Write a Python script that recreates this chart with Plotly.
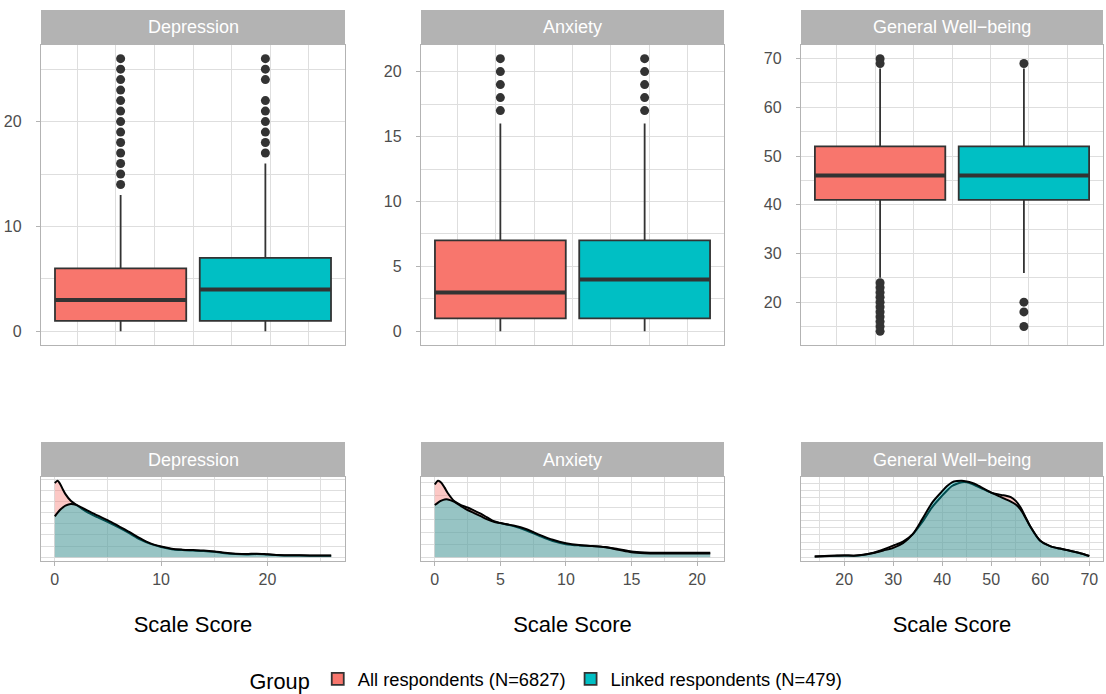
import plotly.graph_objects as go

W, H = 1106, 694

# ---------------- data ----------------
measures = ["Depression", "Anxiety", "General Well\u2212being"]
groups = ["All respondents (N=6827)", "Linked respondents (N=479)"]

# box statistics: [lower whisker, q1, median, q3, upper whisker]
dep_all_stats = [0, 1, 3, 6, 13]
dep_linked_stats = [0, 1, 4, 7, 16]
anx_all_stats = [0, 1, 3, 7, 16]
anx_linked_stats = [0, 1, 4, 7, 16]
wb_all_stats = [25, 41, 46, 52, 68]
wb_linked_stats = [26, 41, 46, 52, 68]

# outliers
dep_all_out = [14, 15, 16, 17, 18, 19, 20, 21, 22, 23, 24, 25, 26]
dep_linked_out = [17, 18, 19, 20, 21, 22, 24, 25, 26]
anx_all_out = [17, 18, 19, 20, 21]
anx_linked_out = [17, 18, 19, 20, 21]
wb_all_out = [14, 15, 16, 17, 18, 19, 20, 21, 22, 23, 24, 69, 70]
wb_linked_out = [15, 18, 20, 69]

# density curves
dep_x = [0, 0.25, 0.5, 0.75, 1, 1.5, 2, 2.5, 3, 4, 5, 6, 7, 8, 9, 10, 11, 12, 13,
         14, 15, 16, 17, 18, 19, 20, 21, 22, 24, 26]
dep_all_dens = [0.167, 0.172, 0.165, 0.153, 0.142, 0.127, 0.118, 0.110, 0.102, 0.090,
                0.079, 0.067, 0.054, 0.040, 0.030, 0.023, 0.018, 0.016, 0.015, 0.014,
                0.012, 0.009, 0.007, 0.006, 0.007, 0.006, 0.0045, 0.004, 0.0035, 0.0035]
dep_linked_dens = [0.092, 0.100, 0.107, 0.112, 0.116, 0.120, 0.118, 0.112, 0.106, 0.094,
                   0.083, 0.070, 0.057, 0.043, 0.031, 0.024, 0.019, 0.017, 0.016, 0.015,
                   0.013, 0.010, 0.008, 0.007, 0.008, 0.0065, 0.005, 0.0045, 0.004, 0.004]

anx_x = [0, 0.25, 0.5, 0.75, 1, 1.5, 2, 2.5, 3, 3.5, 4, 4.5, 5, 6, 7, 8, 9, 10, 11,
         12, 13, 14, 15, 16, 17, 18, 19, 20, 21]
anx_all_dens = [0.117, 0.123, 0.120, 0.112, 0.103, 0.090, 0.084, 0.080, 0.075, 0.070,
                0.064, 0.058, 0.055, 0.050, 0.043, 0.034, 0.026, 0.021, 0.019, 0.018,
                0.0165, 0.013, 0.009, 0.0075, 0.007, 0.007, 0.007, 0.007, 0.007]
anx_linked_dens = [0.084, 0.088, 0.091, 0.093, 0.093, 0.089, 0.082, 0.076, 0.071, 0.066,
                   0.061, 0.057, 0.055, 0.051, 0.045, 0.036, 0.028, 0.0225, 0.0195, 0.018,
                   0.016, 0.012, 0.008, 0.0065, 0.006, 0.006, 0.006, 0.006, 0.006]

wb_x = [14, 16, 18, 20, 22, 24, 26, 28, 30, 32, 34, 36, 38, 40, 41, 42, 43, 44, 45,
        46, 47, 48, 50, 52, 53, 54, 55, 56, 57, 58, 60, 62, 64, 66, 68, 70]
wb_all_dens = [0.0005, 0.0008, 0.001, 0.0012, 0.001, 0.0017, 0.003, 0.0052, 0.0078,
               0.0105, 0.0155, 0.024, 0.034, 0.0415, 0.045, 0.048, 0.0495, 0.0505,
               0.0505, 0.0495, 0.048, 0.0465, 0.0435, 0.042, 0.0415, 0.0405, 0.038,
               0.0335, 0.027, 0.0205, 0.011, 0.0075, 0.0058, 0.0044, 0.0028, 0.0008]
wb_linked_dens = [0.0004, 0.0007, 0.001, 0.0012, 0.001, 0.0016, 0.0028, 0.0045, 0.0063,
                  0.0095, 0.0155, 0.026, 0.037, 0.0445, 0.048, 0.0505, 0.0513, 0.0515,
                  0.051, 0.0502, 0.049, 0.047, 0.0435, 0.0405, 0.039, 0.0375, 0.0355,
                  0.032, 0.0265, 0.0205, 0.011, 0.0075, 0.0058, 0.0044, 0.0028, 0.0008]

# tick spacing per measure for score axis, and for density axis
score_dtick = [10, 5, 10]
dens_dtick = [0.05, 0.04, 0.01]

# ---------------- style ----------------
FILL = ["#F8766D", "#00BFC4"]
FILL_A = ["rgba(248,118,109,0.4)", "rgba(0,191,196,0.4)"]
DARK = "#333333"
GRID = "#DEDEDE"
BORDER = "#B3B3B3"
FONT = "Liberation Sans, Arial, sans-serif"

cols_px = [(41, 345), (421, 724), (801, 1103)]
top_px = (45, 345)
bot_px = (477, 561)
STRIP = 35
BOX_POS = [-0.1875, 0.1875]
BOX_W = 0.34


def fx(p):
    return p / W


def fy(p):
    return 1 - p / H


stats = [(dep_all_stats, dep_linked_stats), (anx_all_stats, anx_linked_stats),
         (wb_all_stats, wb_linked_stats)]
outs = [(dep_all_out, dep_linked_out), (anx_all_out, anx_linked_out),
        (wb_all_out, wb_linked_out)]
dens_x = [dep_x, anx_x, wb_x]
dens = [(dep_all_dens, dep_linked_dens), (anx_all_dens, anx_linked_dens),
        (wb_all_dens, wb_linked_dens)]

fig = go.Figure()
layout = {}
shapes = []
annotations = []

for i in range(3):
    ta = i + 1          # top axes index
    ba = i + 4          # bottom axes index
    xt = "x" if ta == 1 else f"x{ta}"
    yt = "y" if ta == 1 else f"y{ta}"
    xb, yb = f"x{ba}", f"y{ba}"

    # ---- boxplots ----
    for g in range(2):
        s = stats[i][g]
        pos = BOX_POS[g]
        fig.add_trace(go.Box(
            x=[pos], lowerfence=[s[0]], q1=[s[1]], median=[s[2]], q3=[s[3]],
            upperfence=[s[4]], width=BOX_W, whiskerwidth=0, boxpoints=False,
            fillcolor=FILL[g], line=dict(color=DARK, width=1.8),
            name=groups[g], legendgroup=groups[g], showlegend=(i == 0),
            xaxis=xt, yaxis=yt, hoverinfo="skip"))
        fig.add_trace(go.Scatter(
            x=[pos - BOX_W / 2, pos + BOX_W / 2], y=[s[2], s[2]], mode="lines",
            line=dict(color=DARK, width=4), showlegend=False, hoverinfo="skip",
            xaxis=xt, yaxis=yt))
        fig.add_trace(go.Scatter(
            x=[pos] * len(outs[i][g]), y=outs[i][g], mode="markers",
            marker=dict(color=DARK, size=9, line=dict(width=0)),
            showlegend=False, hoverinfo="skip", xaxis=xt, yaxis=yt))

    # ---- densities ----
    for g in range(2):
        fig.add_trace(go.Scatter(
            x=dens_x[i], y=dens[i][g], mode="lines", fill="tozeroy",
            fillcolor=FILL_A[g], line=dict(color="black", width=2, shape="spline",
                                           smoothing=0.8),
            showlegend=False, hoverinfo="skip", xaxis=xb, yaxis=yb))

    # ranges from data (ggplot-style 5% expansion)
    lo = min(min(stats[i][0]), min(stats[i][1]), min(outs[i][0]), min(outs[i][1]))
    hi = max(max(stats[i][0]), max(stats[i][1]), max(outs[i][0]), max(outs[i][1]))
    pad = 0.05 * (hi - lo)
    srange = [lo - pad, hi + pad]
    dmax = max(max(dens[i][0]), max(dens[i][1]))
    drange = [-0.05 * dmax, 1.05 * dmax]

    x0, x1 = cols_px[i]
    common = dict(showline=True, mirror=True, linecolor=BORDER, linewidth=1.3,
                  zeroline=False, gridcolor=GRID, gridwidth=1)

    layout["xaxis" if ta == 1 else f"xaxis{ta}"] = dict(
        domain=[fx(x0), fx(x1)], anchor=yt, range=[-0.39375, 0.39375],
        tick0=0, dtick=0.2, showticklabels=False, ticks="",
        minor=dict(dtick=0.1, tick0=0, showgrid=True, gridcolor=GRID, gridwidth=0.7),
        **common)
    layout["yaxis" if ta == 1 else f"yaxis{ta}"] = dict(
        domain=[fy(top_px[1]), fy(top_px[0])], anchor=xt, range=srange,
        tick0=0, dtick=score_dtick[i], ticks="outside", ticklen=4, tickcolor=BORDER,
        tickwidth=1, tickfont=dict(size=16, color="#4D4D4D", family=FONT),
        ticklabelstandoff=11,
        minor=dict(dtick=score_dtick[i] / 2, tick0=0, showgrid=True,
                   gridcolor=GRID, gridwidth=0.7),
        **common)
    layout[f"xaxis{ba}"] = dict(
        domain=[fx(x0), fx(x1)], anchor=yb, range=srange,
        tick0=0, dtick=score_dtick[i], ticks="outside", ticklen=4, tickcolor=BORDER,
        tickwidth=1, tickfont=dict(size=16, color="#4D4D4D", family=FONT),
        minor=dict(dtick=score_dtick[i] / 2, tick0=0, showgrid=True,
                   gridcolor=GRID, gridwidth=0.7),
        title=dict(text="Scale Score", font=dict(size=22, color="black", family=FONT),
                   standoff=29),
        automargin=False, **common)
    layout[f"yaxis{ba}"] = dict(
        domain=[fy(bot_px[1]), fy(bot_px[0])], anchor=xb, range=drange,
        tick0=0, dtick=dens_dtick[i], showticklabels=False, ticks="",
        minor=dict(dtick=dens_dtick[i] / 2, tick0=0, showgrid=True,
                   gridcolor=GRID, gridwidth=0.7),
        **common)

    # strips
    for ytop in (top_px[0], bot_px[0]):
        shapes.append(dict(type="rect", xref="paper", yref="paper",
                           x0=fx(x0), x1=fx(x1), y0=fy(ytop), y1=fy(ytop - STRIP),
                           fillcolor=BORDER, line=dict(width=0), layer="above"))
        annotations.append(dict(text=measures[i], xref="paper", yref="paper",
                                x=fx((x0 + x1) / 2), y=fy(ytop - STRIP / 2),
                                xanchor="center", yanchor="middle", showarrow=False,
                                font=dict(size=18, color="white", family=FONT)))

fig.update_layout(
    width=W, height=H,
    margin=dict(l=0, r=0, t=0, b=0, autoexpand=False),
    paper_bgcolor="white", plot_bgcolor="white",
    font=dict(family=FONT, color="black"),
    boxmode="overlay",
    shapes=shapes, annotations=annotations,
    legend=dict(orientation="h", x=0.495, xanchor="center", y=fy(680), yanchor="middle",
                title=dict(text="Group", side="left", font=dict(size=21.7)),
                font=dict(size=18.3, color="black"), bgcolor="rgba(0,0,0,0)",
                itemwidth=30),
    **layout)

fig.write_html(
    "out.html",
    config={"displayModeBar": False},
    post_script="document.body.style.margin='0px';document.body.style.overflow='hidden';")
